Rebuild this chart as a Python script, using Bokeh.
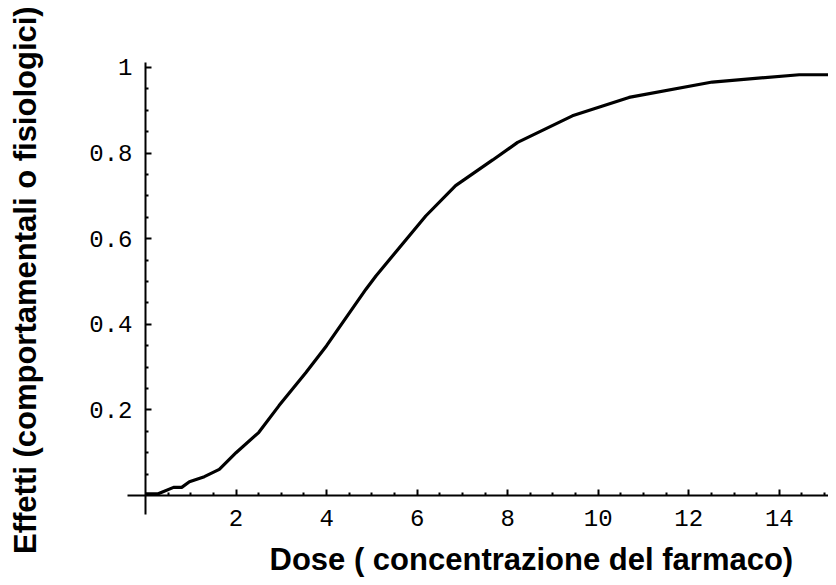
import math
from bokeh.plotting import figure
from bokeh.models import Range1d, FixedTicker, Label, ColumnDataSource
from bokeh.embed import file_html
from bokeh.resources import INLINE

# ---- data ----
dose = [0.0, 0.28, 0.62, 0.8, 0.97, 1.3, 1.63, 2.0, 2.5, 2.95, 3.54, 4.0,
        4.87, 5.09, 6.19, 6.85, 7.67, 8.22, 9.43, 10.68, 12.52, 14.44, 15.1]
effect = [0.004, 0.004, 0.019, 0.019, 0.032, 0.044, 0.061, 0.10, 0.147, 0.21,
          0.287, 0.35, 0.482, 0.513, 0.653, 0.724, 0.784, 0.825, 0.887, 0.930,
          0.966, 0.983, 0.983]

x_major = [2, 4, 6, 8, 10, 12, 14]
x_minor = [0.5, 1.0, 1.5, 2.5, 3.0, 3.5, 4.5, 5.0, 5.5, 6.5, 7.0, 7.5, 8.5, 9.0, 9.5,
           10.5, 11.0, 11.5, 12.5, 13.0, 13.5, 14.5, 15.0]
y_major = [0.2, 0.4, 0.6, 0.8, 1.0]
y_minor = [0.05, 0.1, 0.15, 0.25, 0.3, 0.35, 0.45, 0.5, 0.55, 0.65, 0.7, 0.75,
           0.85, 0.9, 0.95]
y_tick_labels = {0.2: "0.2", 0.4: "0.4", 0.6: "0.6", 0.8: "0.8", 1.0: "1"}

x_title = "Dose ( concentrazione  del farmaco)"
y_title = "Effetti (comportamentali o fisiologici)"

# visible extent of the two axis lines (data units)
x_axis_extent = (-0.4, 15.1)
y_axis_extent = (-0.044, 1.012)

p = figure(width=828, height=577, output_backend="svg", toolbar_location=None,
           x_range=Range1d(-3.203, 15.087), y_range=Range1d(-0.1916, 1.1565),
           min_border_left=0, min_border_right=0, min_border_top=0,
           min_border_bottom=0)
p.outline_line_color = None
p.xgrid.visible = False
p.ygrid.visible = False
p.background_fill_color = "white"
p.border_fill_color = "white"

src = ColumnDataSource(dict(x=dose, y=effect))
p.line("x", "y", source=src, line_color="black", line_width=3.2)

for ax in (p.xaxis[0], p.yaxis[0]):
    ax.fixed_location = 0
    ax.axis_line_width = 2
    ax.axis_line_color = "black"
    ax.major_tick_in = 6
    ax.major_tick_out = 0
    ax.minor_tick_in = 3
    ax.minor_tick_out = 0
    ax.major_tick_line_width = 2
    ax.minor_tick_line_width = 2
    ax.major_tick_line_color = "black"
    ax.minor_tick_line_color = "black"
    ax.major_label_text_font = "Liberation Mono"
    ax.major_label_text_font_size = "24px"
    ax.major_label_text_color = "black"

p.xaxis.bounds = x_axis_extent
p.yaxis.bounds = y_axis_extent
p.xaxis.ticker = FixedTicker(ticks=x_major, minor_ticks=x_minor)
p.yaxis.ticker = FixedTicker(ticks=y_major, minor_ticks=y_minor)
p.yaxis.major_label_overrides = y_tick_labels
p.xaxis.major_label_standoff = 15
p.yaxis.major_label_standoff = 13

p.add_layout(Label(x=2.739, y=-0.1495, text=x_title, text_font="Liberation Sans",
                   text_font_style="bold", text_font_size="31px",
                   text_align="left", text_baseline="alphabetic", text_color="black"))
p.add_layout(Label(x=-2.651, y=-0.1367, text=y_title, text_font="Liberation Sans",
                   text_font_style="bold", text_font_size="31px", angle=math.pi / 2,
                   text_align="left", text_baseline="alphabetic", text_color="black"))

open("out.html", "w").write(file_html(p, INLINE))
